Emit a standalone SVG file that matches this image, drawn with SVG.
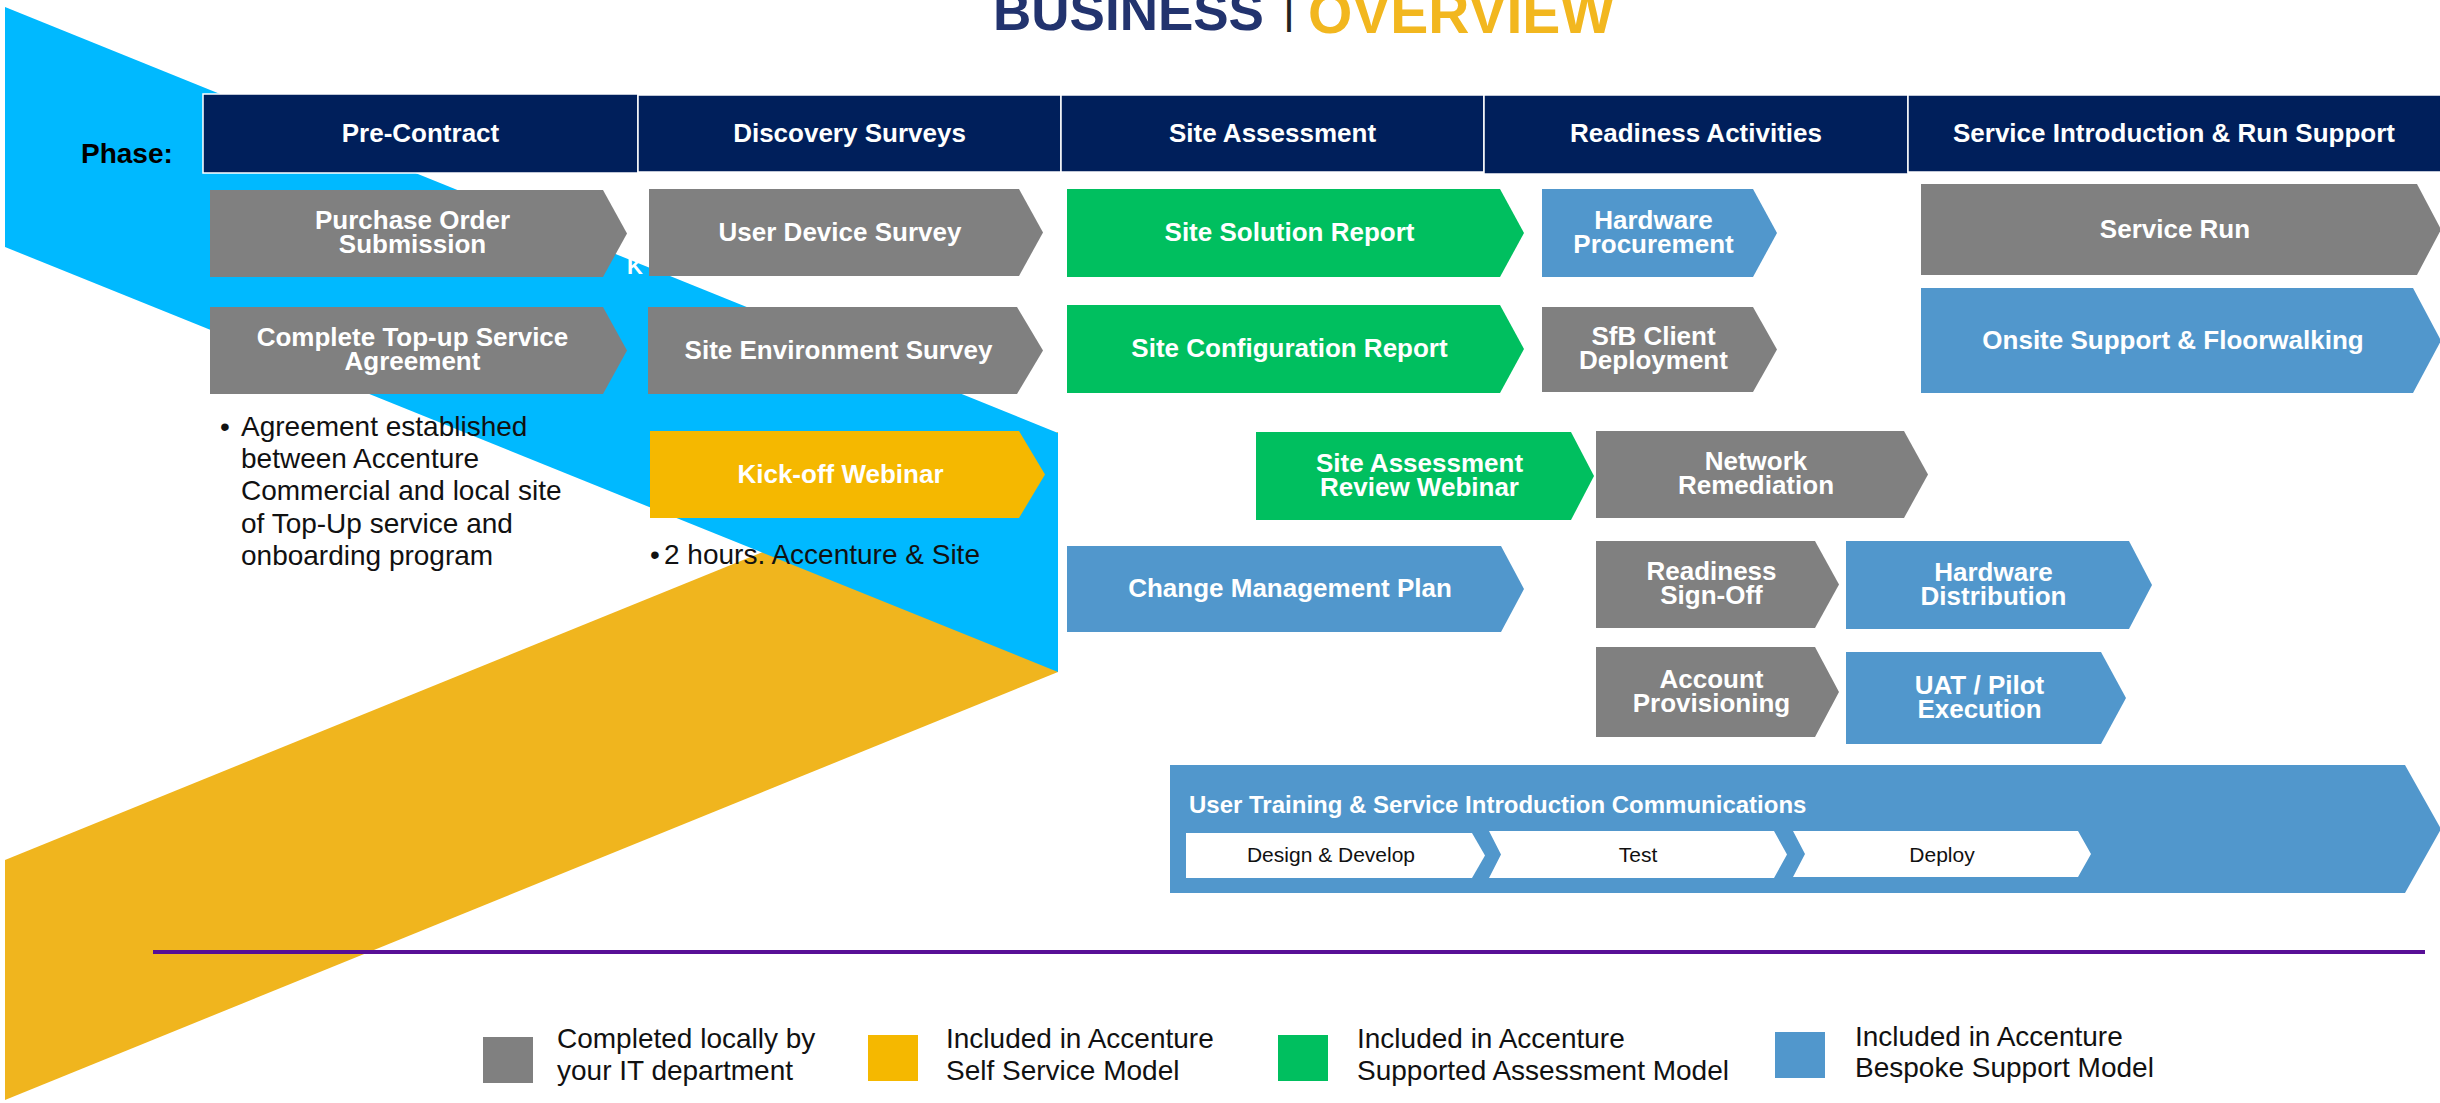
<svg xmlns="http://www.w3.org/2000/svg" width="2440" height="1103" viewBox="0 0 2440 1103">
<style>
.g{fill:#808080}.gr{fill:#00bf5f}.bl{fill:#5197cc}.ye{fill:#f5b800}
.nt{font-family:"Liberation Sans",Arial,sans-serif;font-weight:700;font-size:26px;fill:#fff;text-anchor:middle}
.hd{fill:#001f5b;stroke:#ffffff;stroke-width:1.5}
.bt{font-family:"Liberation Sans",Arial,sans-serif;font-size:28px;fill:#111}
.st{font-family:"Liberation Sans",Arial,sans-serif;font-size:21px;fill:#111;text-anchor:middle}
</style>
<rect width="2440" height="1103" fill="#ffffff"/>
<g id="bands">
<polygon points="5,860 1058,432 1058,672 5,1100" fill="#f0b51e"/>
<polygon points="5,7 1058,433 1058,672 5,247" fill="#00b9ff"/>
<text x="627" y="274" class="nt" style="text-anchor:start;font-size:22px">K</text>
</g>
<g id="title" font-family="Liberation Sans, Arial, sans-serif" font-weight="700">
<text x="993" y="30" font-size="53" fill="#22336e">BUSINESS</text>
<text x="1289" y="22" font-size="46" font-weight="400" fill="#222" text-anchor="middle">|</text>
<text x="1308" y="33" font-size="57" fill="#f2b71f">OVERVIEW</text>
</g>
<g id="phase-label"><text x="81" y="163" font-family="Liberation Sans, Arial, sans-serif" font-weight="700" font-size="28" fill="#000">Phase:</text></g>
<g id="phases">
<g id="ph-precontract"><rect class="hd" x="203" y="94" width="435" height="79"/><text class="nt" x="420.5" y="142">Pre-Contract</text></g>
<g id="ph-discovery"><rect class="hd" x="638" y="95" width="423" height="77"/><text class="nt" x="849.5" y="142">Discovery Surveys</text></g>
<g id="ph-siteassess"><rect class="hd" x="1061" y="95" width="423" height="77"/><text class="nt" x="1272.5" y="142">Site Assessment</text></g>
<g id="ph-readiness"><rect class="hd" x="1484" y="95" width="424" height="79"/><text class="nt" x="1696" y="142">Readiness Activities</text></g>
<g id="ph-service"><rect class="hd" x="1908" y="95" width="534" height="77"/><text class="nt" x="2174" y="142">Service Introduction &amp; Run Support</text></g>
</g>
<g id="connectors"/>
<g id="n-purchase"><polygon class="g" points="210,190 603,190 627,233.5 603,277 210,277"/><text class="nt" x="412.5" y="229">Purchase Order</text><text class="nt" x="412.5" y="253">Submission</text></g>
<g id="n-topup"><polygon class="g" points="210,307 603,307 627,350.5 603,394 210,394"/><text class="nt" x="412.5" y="346">Complete Top-up Service</text><text class="nt" x="412.5" y="370">Agreement</text></g>
<g id="n-userdevice"><polygon class="g" points="649,189 1019,189 1043,232.5 1019,276 649,276"/><text class="nt" x="840" y="240.5">User Device Survey</text></g>
<g id="n-siteenv"><polygon class="g" points="648,307 1017,307 1043,350.5 1017,394 648,394"/><text class="nt" x="838.5" y="358.5">Site Environment Survey</text></g>
<g id="n-kickoff"><polygon class="ye" points="650,431 1019,431 1045,474.5 1019,518 650,518"/><text class="nt" x="840.5" y="482.5">Kick-off Webinar</text></g>
<g id="n-sitesolution"><polygon class="gr" points="1067,189 1500,189 1524,233 1500,277 1067,277"/><text class="nt" x="1289.5" y="241">Site Solution Report</text></g>
<g id="n-siteconfig"><polygon class="gr" points="1067,305 1500,305 1524,349 1500,393 1067,393"/><text class="nt" x="1289.5" y="357">Site Configuration Report</text></g>
<g id="n-hwproc"><polygon class="bl" points="1542,189 1753,189 1777,233 1753,277 1542,277"/><text class="nt" x="1653.5" y="228.5">Hardware</text><text class="nt" x="1653.5" y="252.5">Procurement</text></g>
<g id="n-sfb"><polygon class="g" points="1542,307 1753,307 1777,349.5 1753,392 1542,392"/><text class="nt" x="1653.5" y="345">SfB Client</text><text class="nt" x="1653.5" y="369">Deployment</text></g>
<g id="n-servicerun"><polygon class="g" points="1921,184 2417,184 2441,229.5 2417,275 1921,275"/><text class="nt" x="2175" y="237.5">Service Run</text></g>
<g id="n-onsite"><polygon class="bl" points="1921,288 2413,288 2441,340.5 2413,393 1921,393"/><text class="nt" x="2173" y="348.5">Onsite Support &amp; Floorwalking</text></g>
<g id="n-sarw"><polygon class="gr" points="1256,432 1571,432 1594,476 1571,520 1256,520"/><text class="nt" x="1419.5" y="471.5">Site Assessment</text><text class="nt" x="1419.5" y="495.5">Review Webinar</text></g>
<g id="n-network"><polygon class="g" points="1596,431 1904,431 1928,474.5 1904,518 1596,518"/><text class="nt" x="1756" y="470">Network</text><text class="nt" x="1756" y="494">Remediation</text></g>
<g id="n-change"><polygon class="bl" points="1067,546 1501,546 1524,589 1501,632 1067,632"/><text class="nt" x="1290" y="597">Change Management Plan</text></g>
<g id="n-signoff"><polygon class="g" points="1596,541 1815,541 1839,584.5 1815,628 1596,628"/><text class="nt" x="1711.5" y="580">Readiness</text><text class="nt" x="1711.5" y="604">Sign-Off</text></g>
<g id="n-hwdist"><polygon class="bl" points="1846,541 2129,541 2152,585 2129,629 1846,629"/><text class="nt" x="1993.5" y="580.5">Hardware</text><text class="nt" x="1993.5" y="604.5">Distribution</text></g>
<g id="n-account"><polygon class="g" points="1596,647 1815,647 1839,692 1815,737 1596,737"/><text class="nt" x="1711.5" y="687.5">Account</text><text class="nt" x="1711.5" y="711.5">Provisioning</text></g>
<g id="n-uat"><polygon class="bl" points="1846,652 2101,652 2126,698 2101,744 1846,744"/><text class="nt" x="1979.5" y="693.5">UAT / Pilot</text><text class="nt" x="1979.5" y="717.5">Execution</text></g>
<g id="n-training">
<polygon class="bl" points="1170,765 2405,765 2441,829 2405,893 1170,893"/>
<text class="nt" x="1189" y="813" style="text-anchor:start;font-size:24px">User Training &amp; Service Introduction Communications</text>
<polygon fill="#fff" points="1186,833 1472,833 1485,855.5 1472,878 1186,878"/>
<polygon fill="#fff" points="1489,831 1774,831 1787,854.5 1774,878 1489,878 1501,854.5"/>
<polygon fill="#fff" points="1793,831 2078,831 2091,854 2078,877 1793,877 1805,854"/>
<text class="st" x="1331" y="862">Design &amp; Develop</text>
<text class="st" x="1638" y="862">Test</text>
<text class="st" x="1942" y="862">Deploy</text>
</g>
<g id="notes" class="bt">
<text x="220" y="436">•</text>
<text x="241" y="436">Agreement established</text>
<text x="241" y="468">between Accenture</text>
<text x="241" y="500">Commercial and local site</text>
<text x="241" y="533">of Top-Up service and</text>
<text x="241" y="565">onboarding program</text>
<text x="650" y="564">•</text>
<text x="664" y="564">2 hours. Accenture &amp; Site</text>
</g>
<line x1="153" y1="952" x2="2425" y2="952" stroke="#580f96" stroke-width="4"/>
<g id="legend" class="bt">
<g id="lg-local"><rect x="483" y="1037" width="50" height="46" fill="#808080"/><text x="557" y="1048">Completed locally by</text><text x="557" y="1080">your IT department</text></g>
<g id="lg-self"><rect x="868" y="1035" width="50" height="46" fill="#f5b800"/><text x="946" y="1048">Included in Accenture</text><text x="946" y="1080">Self Service Model</text></g>
<g id="lg-supported"><rect x="1278" y="1035" width="50" height="46" fill="#00bf5f"/><text x="1357" y="1048">Included in Accenture</text><text x="1357" y="1080">Supported Assessment Model</text></g>
<g id="lg-bespoke"><rect x="1775" y="1032" width="50" height="46" fill="#5197cc"/><text x="1855" y="1046">Included in Accenture</text><text x="1855" y="1077">Bespoke Support Model</text></g>
</g>
</svg>
